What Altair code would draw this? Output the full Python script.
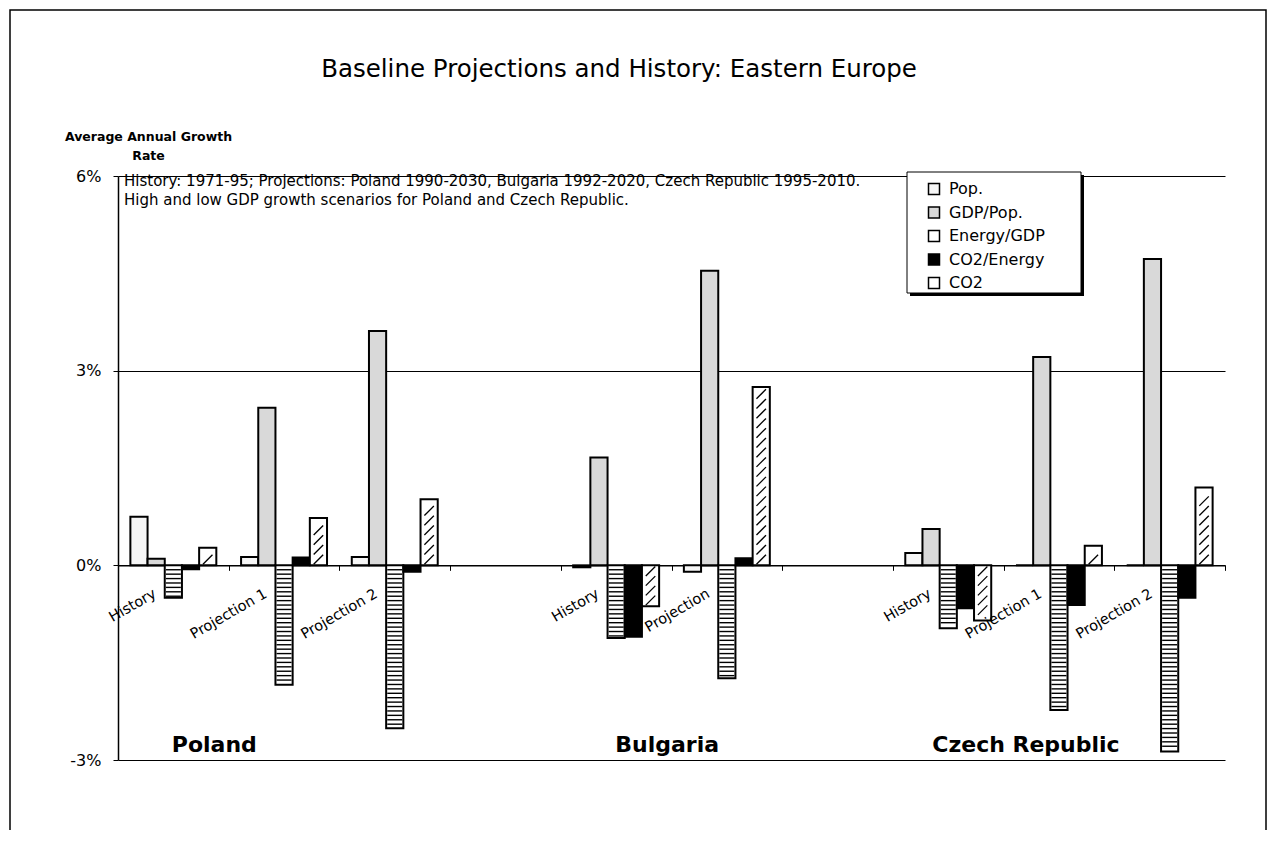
import altair as alt
import pandas as pd

FONT = "DejaVu Sans"

# ---------------- data ----------------
series = ["Pop.", "GDP/Pop.", "Energy/GDP", "CO2/Energy", "CO2"]
slot_keys = ["PL-H", "PL-P1", "PL-P2", "gap-1", "BG-H", "BG-P", "gap-2", "CZ-H", "CZ-P1", "CZ-P2"]
data_slots = ["PL-H", "PL-P1", "PL-P2", "BG-H", "BG-P", "CZ-H", "CZ-P1", "CZ-P2"]
slot_labels = ["History", "Projection 1", "Projection 2", "History", "Projection",
               "History", "Projection 1", "Projection 2"]

pop        = [0.75, 0.13, 0.13, -0.03, -0.10, 0.19, 0.00, 0.00]
gdp_pop    = [0.10, 2.43, 3.61, 1.66, 4.54, 0.56, 3.21, 4.72]
energy_gdp = [-0.50, -1.84, -2.51, -1.12, -1.74, -0.97, -2.23, -2.87]
co2_energy = [-0.06, 0.12, -0.10, -1.10, 0.11, -0.66, -0.61, -0.50]
co2        = [0.27, 0.73, 1.02, -0.63, 2.75, -0.85, 0.30, 1.20]

countries = ["Poland", "Bulgaria", "Czech Republic"]
country_anchor = ["PL-H", "BG-H", "CZ-P1"]

y_ticks = [-3, 0, 3, 6]
title_text = "Baseline Projections and History: Eastern Europe"
note_lines = ["History: 1971-95; Projections: Poland 1990-2030, Bulgaria 1992-2020, Czech Republic 1995-2010.",
              "High and low GDP growth scenarios for Poland and Czech Republic."]
y_title = ["Average Annual Growth", "Rate"]

fills = ["#f6f6f6", "#d9d9d9", "#ffffff", "#000000", "#ffffff"]

# ---------------- tables ----------------
bars_df = pd.DataFrame([
    {"slot": s, "series": ser, "value": vals[i]}
    for ser, vals in zip(series, [pop, gdp_pop, energy_gdp, co2_energy, co2])
    for i, s in enumerate(data_slots)
])

# horizontal stripe hatching for Energy/GDP bars (decoration derived from bar values)
stripe_step = 0.068
stripe_rows = []
for s, v in zip(data_slots, energy_gdp):
    n = int(abs(v) / stripe_step - 0.3)
    sgn = 1 if v > 0 else -1
    for k in range(1, n + 1):
        stripe_rows.append({"slot": s, "series": "Energy/GDP", "value": sgn * k * stripe_step})
stripe_df = pd.DataFrame(stripe_rows)

# diagonal hatching for CO2 bars
hatch_step = 0.15
hatch_rows = []
for s, v in zip(data_slots, co2):
    sgn = 1 if v > 0 else -1
    k = 0
    while (k + 0.6) * hatch_step < abs(v) - 0.06:
        hatch_rows.append({"slot": s, "series": "CO2", "value": sgn * (k + 0.6) * hatch_step})
        k += 1
hatch_df = pd.DataFrame(hatch_rows)

labels_df = pd.DataFrame({"slot": data_slots, "label": slot_labels})
one = pd.DataFrame({"k": [0]})

W, H = 1107, 584
zero_offset = -(H * 3 / 9)

x_enc = alt.X("slot:N",
              scale=alt.Scale(domain=slot_keys, paddingInner=0, paddingOuter=0),
              axis=alt.Axis(labels=False, title=None, ticks=True, tickBand="extent",
                            tickSize=5, tickColor="black", domainColor="black",
                            domainWidth=1.5, offset=zero_offset, grid=False))
xoff_enc = alt.XOffset("series:N", scale=alt.Scale(domain=series, paddingInner=0, paddingOuter=0.72))
y_enc = alt.Y("value:Q",
              scale=alt.Scale(domain=[-3, 6], nice=False, zero=False),
              axis=alt.Axis(values=y_ticks, labelExpr="datum.value + '%'",
                            grid=True, gridColor="black", gridOpacity=1, gridWidth=1,
                            domainColor="black", domainWidth=1.5, tickColor="black",
                            tickSize=5, labelFont=FONT, labelFontSize=16, labelColor="black",
                            labelPadding=12, title=y_title, titleAngle=0, titleX=30, titleY=-36,
                            titleAlign="center", titleBaseline="alphabetic", titleFont=FONT,
                            titleFontSize=12.5, titleFontWeight="bold", titleColor="black",
                            titleLineHeight=19))

frame = alt.Chart(one).mark_rect(fillOpacity=0, stroke="black", strokeWidth=1.5).encode(
    x=alt.value(-108), x2=alt.value(1148), y=alt.value(-166), y2=alt.value(700))

title_mark = alt.Chart(one).mark_text(font=FONT, fontSize=24.5, align="center",
                                      baseline="middle", color="black").encode(
    x=alt.value(501), y=alt.value(-106), text=alt.value(title_text))

note_mark = alt.Chart(one).mark_text(font=FONT, fontSize=15, align="left", baseline="alphabetic",
                                     lineHeight=19, color="black").encode(
    x=alt.value(6), y=alt.value(10), text=alt.value(note_lines))

bars = alt.Chart(bars_df).mark_bar(stroke="black", strokeWidth=2).encode(
    x=x_enc, xOffset=xoff_enc, y=y_enc,
    fill=alt.Fill("series:N", scale=alt.Scale(domain=series, range=fills),
                  legend=alt.Legend(orient="none", legendX=808, legendY=5, title=None,
                                    symbolType="square", symbolSize=121,
                                    symbolStrokeColor="black", symbolStrokeWidth=1.5,
                                    labelFont=FONT, labelFontSize=16, labelColor="black",
                                    labelOffset=7, rowPadding=5.5, padding=0, symbolOffset=0)))

stripes = alt.Chart(stripe_df).mark_tick(color="black", thickness=1.4, size=15,
                                         orient="horizontal", opacity=1).encode(
    x=x_enc, xOffset=xoff_enc, y=y_enc)

hatch = alt.Chart(hatch_df).mark_point(shape="M -1 1 L 1 -1", filled=False, stroke="black",
                                       strokeWidth=1.3, size=90, opacity=1).encode(
    x=x_enc, xOffset=xoff_enc, y=y_enc)

cat_labels = alt.Chart(labels_df).mark_text(font=FONT, fontSize=14.5, angle=330, align="right",
                                            baseline="top", dx=-25, color="black").encode(
    x=x_enc, y=alt.value(398.5), text="label:N")

country_dx = [41, 51, -33]
country_layers = []
for name, anchor, dx in zip(countries, country_anchor, country_dx):
    df = pd.DataFrame({"slot": [anchor], "label": [name]})
    country_layers.append(
        alt.Chart(df).mark_text(font=FONT, fontSize=22, fontWeight="bold", align="center",
                                baseline="middle", dx=dx, color="black").encode(
            x=x_enc, y=alt.value(569), text="label:N"))

legend_shadow = alt.Chart(one).mark_rect(fill="black").encode(
    x=alt.value(792), x2=alt.value(966), y=alt.value(-1), y2=alt.value(120))
legend_box = alt.Chart(one).mark_rect(fill="white", stroke="black", strokeWidth=1).encode(
    x=alt.value(789), x2=alt.value(963), y=alt.value(-4), y2=alt.value(117))

chart = alt.layer(
    frame, title_mark, note_mark, bars, stripes, hatch, cat_labels, *country_layers,
    legend_shadow, legend_box
).properties(
    width=W, height=H,
    autosize=alt.AutoSizeParams(type="none"),
    padding={"left": 110, "top": 168, "right": 44, "bottom": 70},
    background="white"
).configure_view(stroke="transparent")

chart.save("out.html", embed_options={"renderer": "svg", "actions": False})
